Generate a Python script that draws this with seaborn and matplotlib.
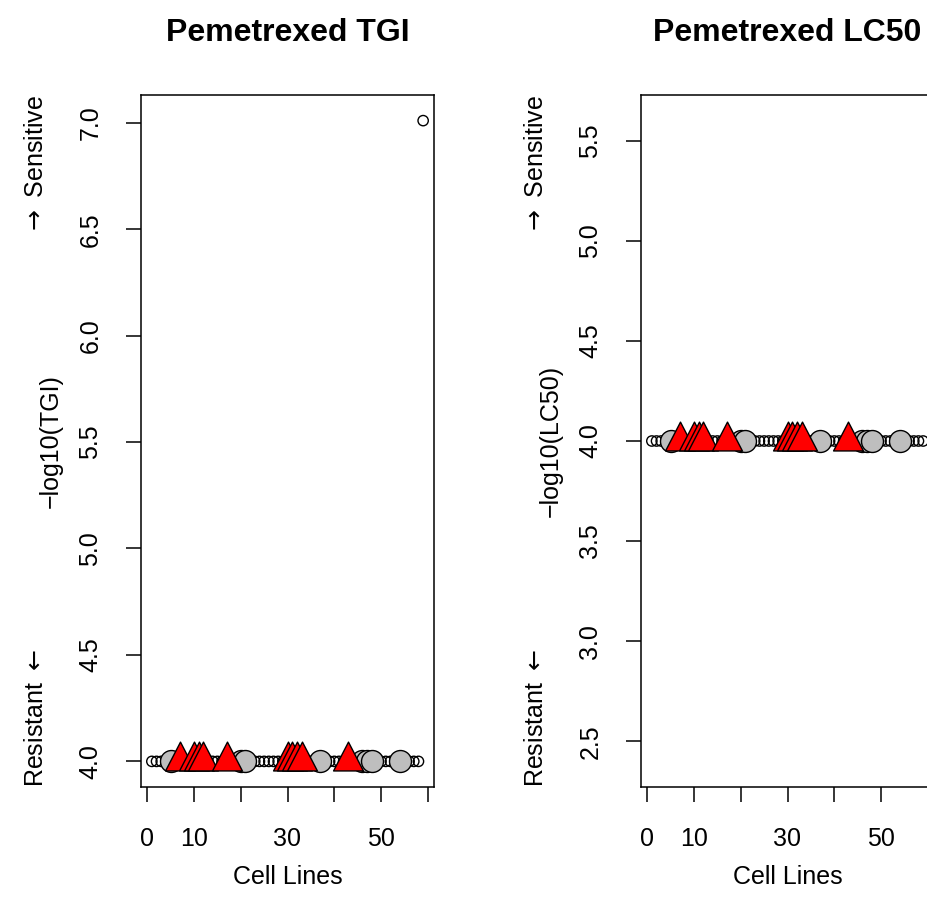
import matplotlib
matplotlib.use("Agg")
import matplotlib.pyplot as plt
from matplotlib.path import Path
from matplotlib.markers import MarkerStyle
import seaborn as sns
import pandas as pd

# ---------------- data ----------------
cell_line = [1, 2, 3, 4, 5, 6, 7, 8, 9, 10, 11, 12, 13, 14, 15, 16, 17, 18, 19, 20,
             21, 22, 23, 24, 25, 26, 27, 28, 29, 30, 31, 32, 33, 34, 35, 36, 37, 38, 39, 40,
             41, 42, 43, 44, 45, 46, 47, 48, 49, 50, 51, 52, 53, 54, 55, 56, 57, 58, 59]
tgi = [4.0, 4.0, 4.0, 4.0, 4.0, 4.0, 4.0, 4.0, 4.0, 4.0, 4.0, 4.0, 4.0, 4.0, 4.0, 4.0, 4.0, 4.0, 4.0, 4.0,
       4.0, 4.0, 4.0, 4.0, 4.0, 4.0, 4.0, 4.0, 4.0, 4.0, 4.0, 4.0, 4.0, 4.0, 4.0, 4.0, 4.0, 4.0, 4.0, 4.0,
       4.0, 4.0, 4.0, 4.0, 4.0, 4.0, 4.0, 4.0, 4.0, 4.0, 4.0, 4.0, 4.0, 4.0, 4.0, 4.0, 4.0, 4.0, 7.01]
lc50 = [4.0, 4.0, 4.0, 4.0, 4.0, 4.0, 4.0, 4.0, 4.0, 4.0, 4.0, 4.0, 4.0, 4.0, 4.0, 4.0, 4.0, 4.0, 4.0, 4.0,
        4.0, 4.0, 4.0, 4.0, 4.0, 4.0, 4.0, 4.0, 4.0, 4.0, 4.0, 4.0, 4.0, 4.0, 4.0, 4.0, 4.0, 4.0, 4.0, 4.0,
        4.0, 4.0, 4.0, 4.0, 4.0, 4.0, 4.0, 4.0, 4.0, 4.0, 4.0, 4.0, 4.0, 4.0, 4.0, 4.0, 4.0, 4.0, 4.0]
grey_lines = [5, 20, 21, 37, 46, 47, 48, 54]
red_lines = [7, 10, 11, 12, 17, 30, 31, 32, 33, 43]

panels = [
    ("Pemetrexed TGI", "\u2212log10(TGI)", tgi, [4.0, 4.5, 5.0, 5.5, 6.0, 6.5, 7.0]),
    ("Pemetrexed LC50", "\u2212log10(LC50)", lc50, [2.5, 3.0, 3.5, 4.0, 4.5, 5.0, 5.5]),
]
x_ticks = [0, 10, 20, 30, 40, 50, 60]
x_ticklabels = ["0", "10", "", "30", "", "50", ""]

# ---------------- style ----------------
sns.set_theme(style="white")
plt.rcParams["font.family"] = ["Liberation Sans", "DejaVu Sans"]
plt.rcParams["mathtext.fontset"] = "dejavusans"

FS = 18
W, H = 927, 917
fig = plt.figure(figsize=(W / 100, H / 100), dpi=100)

tri_path = Path([(0, 19.5), (-15, -9.5), (15, -9.5), (0, 19.5)],
                [Path.MOVETO, Path.LINETO, Path.LINETO, Path.CLOSEPOLY])
tri_marker = MarkerStyle(tri_path)

box_lefts = [141, 641]
box_top, box_bottom, box_w = 95, 787, 293

for (title, ylab, vals, yticks), left in zip(panels, box_lefts):
    ax = fig.add_axes([left / W, 1 - box_bottom / H, box_w / W, (box_bottom - box_top) / H])
    df = pd.DataFrame({"cell": cell_line, "val": vals})
    sns.scatterplot(data=df, x="cell", y="val", ax=ax, s=55, marker="o",
                    facecolor="none", edgecolor="black", linewidth=1.0, zorder=2)
    dg = df[df["cell"].isin(grey_lines)]
    sns.scatterplot(data=dg, x="cell", y="val", ax=ax, s=250, marker="o",
                    color="#BEBEBE", edgecolor="black", linewidth=1.0, zorder=3)
    dr = df[df["cell"].isin(red_lines)]
    sns.scatterplot(data=dr, x="cell", y="val", ax=ax, s=780, marker=tri_marker,
                    color="#FF0000", edgecolor="black", linewidth=1.0, zorder=4)

    lo, hi = min(vals), max(vals)
    if hi - lo < 1e-9:
        lo, hi = lo - 0.4 * abs(lo), hi + 0.4 * abs(hi)
    pad = 0.04 * (hi - lo)
    ax.set_ylim(lo - pad, hi + pad)
    xpad = 0.04 * (max(cell_line) - min(cell_line))
    ax.set_xlim(min(cell_line) - xpad, max(cell_line) + xpad)

    ax.set_xticks(x_ticks)
    ax.set_xticklabels(x_ticklabels)
    ax.set_yticks(yticks)
    ax.set_yticklabels([f"{t:.1f}" for t in yticks], rotation=90, va="center")
    ax.tick_params(axis="both", direction="out", length=10.8, width=1.1, color="black",
                   labelsize=FS, labelcolor="black", bottom=True, left=True)
    ax.tick_params(axis="x", pad=18)
    ax.tick_params(axis="y", pad=17)
    ax.set_xlabel("")
    ax.set_ylabel("")
    for sp in ax.spines.values():
        sp.set_visible(True)
        sp.set_color("black")
        sp.set_linewidth(1.1)

    cx = left + box_w / 2
    fig.text(cx / W, 1 - 33 / H, title, ha="center", va="center",
             fontsize=23, fontweight="bold", color="black")
    fig.text(cx / W, 1 - 877 / H, "Cell Lines", ha="center", va="center",
             fontsize=FS, color="black")
    fig.text((left - 90) / W, 1 - ((box_top + box_bottom) / 2) / H, ylab,
             rotation=90, ha="center", va="center", fontsize=FS, color="black")
    fig.text((left - 105) / W, 1 - box_top / H, r"$\rightarrow$ Sensitive",
             rotation=90, ha="center", va="top", fontsize=FS, color="black")
    fig.text((left - 105) / W, 1 - box_bottom / H, r"Resistant $\leftarrow$",
             rotation=90, ha="center", va="bottom", fontsize=FS, color="black")

fig.savefig("out.png", dpi=100, facecolor="white")
